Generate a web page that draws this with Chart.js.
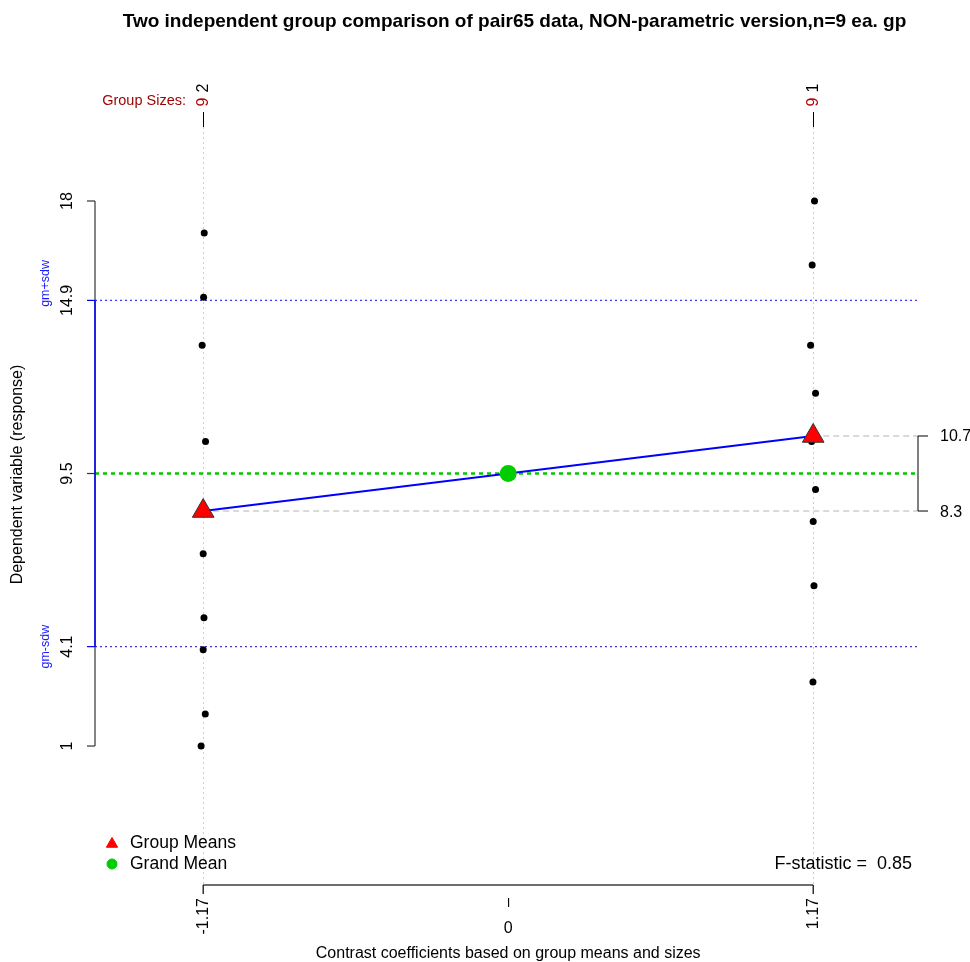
<!DOCTYPE html>
<html><head><meta charset="utf-8">
<script src="https://cdn.jsdelivr.net/npm/chart.js@4"></script>
<style>html,body{margin:0;padding:0;background:#fff}#wrap{width:970px;height:962px;position:relative}</style>
</head><body><div id="wrap"><canvas id="c" width="970" height="962"></canvas></div>
<script>
const titleText = "Two independent group comparison of pair65 data, NON-parametric version,n=9 ea. gp";
const yAxisTitle = "Dependent variable (response)";
const xAxisTitle = "Contrast coefficients based on group means and sizes";
const groupNames = ['2', '1'];
const groupSizes = [9, 9];
const contrastCoefs = [-1.17, 1.17];
const xTickLabels = ['-1.17', '\u2013', '1.17'];
const groupMeans = [8.33, 10.67];
const groupMeanLabels = ['8.3', '10.7'];
const grandMean = 9.5;
const sdBand = [4.1, 14.9];
const sdBandLabels = ['gm-sdw', 'gm+sdw'];
const yTicks = [1, 4.1, 9.5, 14.9, 18];
const yTickLabels = ['1', '4.1', '9.5', '14.9', '18'];
const fStatistic = 0.85;
const group2Values = [17, 15, 13.5, 10.5, 7, 5, 4, 2, 1];
const group1Values = [18, 16, 13.5, 12, 10.5, 9, 8, 6, 3];
const group2Jitter = [0.004, 0.0015, -0.004, 0.009, 0, 0.003, 0, 0.008, -0.008];
const group1Jitter = [0.005, -0.004, -0.010, 0.009, -0.006, 0.009, 0, 0.003, -0.001];

const FONT = "'Liberation Sans', Arial, Helvetica, sans-serif";
const DARKRED = '#9b0000';

function rotText(ctx, txt, x, y, align, color, font) {
  ctx.save();
  ctx.translate(x, y);
  ctx.rotate(-Math.PI / 2);
  ctx.font = font;
  ctx.fillStyle = color;
  ctx.textAlign = align;
  ctx.textBaseline = 'middle';
  ctx.fillText(txt, 0, 0);
  ctx.restore();
}
function hText(ctx, txt, x, y, align, color, font) {
  ctx.save();
  ctx.font = font;
  ctx.fillStyle = color;
  ctx.textAlign = align;
  ctx.textBaseline = 'middle';
  ctx.fillText(txt, x, y);
  ctx.restore();
}
function seg(ctx, x1, y1, x2, y2, color, width, dash) {
  ctx.save();
  ctx.beginPath();
  ctx.strokeStyle = color;
  ctx.lineWidth = width;
  ctx.setLineDash(dash || []);
  ctx.moveTo(x1, y1);
  ctx.lineTo(x2, y2);
  ctx.stroke();
  ctx.restore();
}

const decor = {
  id: 'decor',
  beforeDatasetsDraw(chart) {
    const ctx = chart.ctx, a = chart.chartArea;
    const xs = chart.scales.x, ys = chart.scales.y;
    contrastCoefs.forEach(c => {
      const px = Math.round(xs.getPixelForValue(c)) + 0.5;
      seg(ctx, px, a.top + 67, px, a.bottom, '#cfcfcf', 1, [2, 3]);
    });
    seg(ctx, a.left, ys.getPixelForValue(sdBand[1]), a.right, ys.getPixelForValue(sdBand[1]), '#3a3aff', 1.2, [2, 3]);
    seg(ctx, a.left, ys.getPixelForValue(sdBand[0]), a.right, ys.getPixelForValue(sdBand[0]), '#4636c8', 1.2, [2, 3]);
    seg(ctx, a.left, ys.getPixelForValue(grandMean), a.right, ys.getPixelForValue(grandMean), '#00c800', 2.5, [4, 4]);
    groupMeans.forEach((m, i) => {
      const py = ys.getPixelForValue(m);
      seg(ctx, xs.getPixelForValue(contrastCoefs[i]), py, a.right, py, '#b4b4b4', 1, [6, 4]);
    });
  },
  afterDraw(chart) {
    const ctx = chart.ctx, a = chart.chartArea;
    const xs = chart.scales.x, ys = chart.scales.y;
    const cx = (a.left + a.right) / 2;
    hText(ctx, titleText, cx + 8, 22, 'center', '#000', 'bold 19px ' + FONT);
    // left axis
    const yTop = ys.getPixelForValue(yTicks[yTicks.length - 1]);
    const yBot = ys.getPixelForValue(yTicks[0]);
    seg(ctx, a.left, yTop, a.left, yBot, '#333', 1.2);
    seg(ctx, a.left, ys.getPixelForValue(sdBand[1]), a.left, ys.getPixelForValue(sdBand[0]), '#0000ff', 1.5);
    yTicks.forEach((t, i) => {
      const py = ys.getPixelForValue(t);
      const isBand = sdBand.includes(t);
      seg(ctx, a.left - 8, py, a.left, py, isBand ? '#0000ff' : '#333', 1.2);
      rotText(ctx, yTickLabels[i], a.left - 27, py, 'center', '#000', '16px ' + FONT);
    });
    rotText(ctx, sdBandLabels[1], a.left - 49, ys.getPixelForValue(sdBand[1]) - 17, 'center', '#1a1aff', '12.5px ' + FONT);
    rotText(ctx, sdBandLabels[0], a.left - 49, ys.getPixelForValue(sdBand[0]), 'center', '#1a1aff', '12.5px ' + FONT);
    rotText(ctx, yAxisTitle, 18, (a.top + a.bottom) / 2 + 2, 'center', '#000', '16px ' + FONT);
    // right bracket
    const pHi = ys.getPixelForValue(groupMeans[1]);
    const pLo = ys.getPixelForValue(groupMeans[0]);
    seg(ctx, a.right, pHi, a.right, pLo, '#000', 1);
    seg(ctx, a.right, pHi, a.right + 10, pHi, '#000', 1);
    seg(ctx, a.right, pLo, a.right + 10, pLo, '#000', 1);
    hText(ctx, groupMeanLabels[1], a.right + 22, pHi + 1, 'left', '#000', '16px ' + FONT);
    hText(ctx, groupMeanLabels[0], a.right + 22, pLo + 2, 'left', '#000', '16px ' + FONT);
    // bottom axis
    const xL = xs.getPixelForValue(contrastCoefs[0]);
    const xR = xs.getPixelForValue(contrastCoefs[1]);
    seg(ctx, xL, a.bottom, xR, a.bottom, '#6e6e6e', 2);
    seg(ctx, xL, a.bottom, xL, a.bottom + 9, '#000', 1.2);
    seg(ctx, xR, a.bottom, xR, a.bottom + 9, '#000', 1.2);
    const tickVals = [contrastCoefs[0], 0, contrastCoefs[1]];
    tickVals.forEach((v, i) => {
      const px = xs.getPixelForValue(v);
      rotText(ctx, xTickLabels[i], px, a.bottom + 13, 'right', '#000', '16px ' + FONT);
    });
    hText(ctx, '0', xs.getPixelForValue(0), a.bottom + 44, 'center', '#000', '16px ' + FONT);
    hText(ctx, xAxisTitle, xs.getPixelForValue(0), a.bottom + 69, 'center', '#000', '16px ' + FONT);
    // top group labels
    hText(ctx, 'Group Sizes:', 186, 101, 'right', DARKRED, '14.5px ' + FONT);
    contrastCoefs.forEach((c, i) => {
      const px = xs.getPixelForValue(c);
      rotText(ctx, String(groupSizes[i]), px, 102, 'center', '#b00000', '16px ' + FONT);
      rotText(ctx, groupNames[i], px, 88, 'center', '#000', '16px ' + FONT);
      rotText(ctx, '\u2014', px, 119.5, 'center', '#000', '15px ' + FONT);
    });
    // legend
    const helpers = Chart.helpers;
    ctx.save();
    ctx.fillStyle = '#ff0000'; ctx.strokeStyle = '#ff0000'; ctx.lineWidth = 1;
    helpers.drawPoint(ctx, { pointStyle: 'triangle', radius: 6.5, borderWidth: 1 }, 112, 844);
    ctx.fillStyle = '#00cc00'; ctx.strokeStyle = '#00cc00';
    helpers.drawPoint(ctx, { pointStyle: 'circle', radius: 5, borderWidth: 1 }, 112, 864);
    ctx.restore();
    hText(ctx, 'Group Means', 130, 843, 'left', '#000', '17.5px ' + FONT);
    hText(ctx, 'Grand Mean', 130, 864, 'left', '#000', '17.5px ' + FONT);
    hText(ctx, 'F-statistic =  ' + fStatistic.toFixed(2), 912, 864, 'right', '#000', '18px ' + FONT);
  }
};

const g2pts = group2Values.map((v, i) => ({ x: contrastCoefs[0] + group2Jitter[i], y: v }));
const g1pts = group1Values.map((v, i) => ({ x: contrastCoefs[1] + group1Jitter[i], y: v }));
const meanPts = groupMeans.map((m, i) => ({ x: contrastCoefs[i], y: m }));

new Chart(document.getElementById('c'), {
  type: 'scatter',
  data: {
    datasets: [
      { label: 'Grand Mean', data: [{ x: 0, y: grandMean }], pointStyle: 'circle', pointRadius: 8.5,
        backgroundColor: '#00cc00', borderColor: '#00cc00', borderWidth: 0, order: 0 },
      { label: 'Group Means', data: meanPts, pointStyle: 'triangle', pointRadius: 12.5,
        backgroundColor: '#ff0000', borderColor: '#333333', borderWidth: 1, order: 1 },
      { type: 'line', label: 'contrast line', data: meanPts, showLine: true, pointRadius: 0,
        borderColor: '#0000ff', borderWidth: 2, fill: false, order: 2 },
      { label: 'Group 2', data: g2pts, pointRadius: 3.5, backgroundColor: '#000', borderColor: '#000', borderWidth: 0, order: 3 },
      { label: 'Group 1', data: g1pts, pointRadius: 3.5, backgroundColor: '#000', borderColor: '#000', borderWidth: 0, order: 4 }
    ]
  },
  options: {
    responsive: false,
    animation: false,
    devicePixelRatio: 1,
    layout: { padding: { left: 95, right: 52, top: 60, bottom: 77 } },
    scales: {
      x: { type: 'linear', min: -1.585, max: 1.572, display: false },
      y: { type: 'linear', min: -3.335, max: 22.398, display: false }
    },
    plugins: { legend: { display: false }, tooltip: { enabled: false }, title: { display: false } }
  },
  plugins: [decor]
});
</script>
</body></html>
